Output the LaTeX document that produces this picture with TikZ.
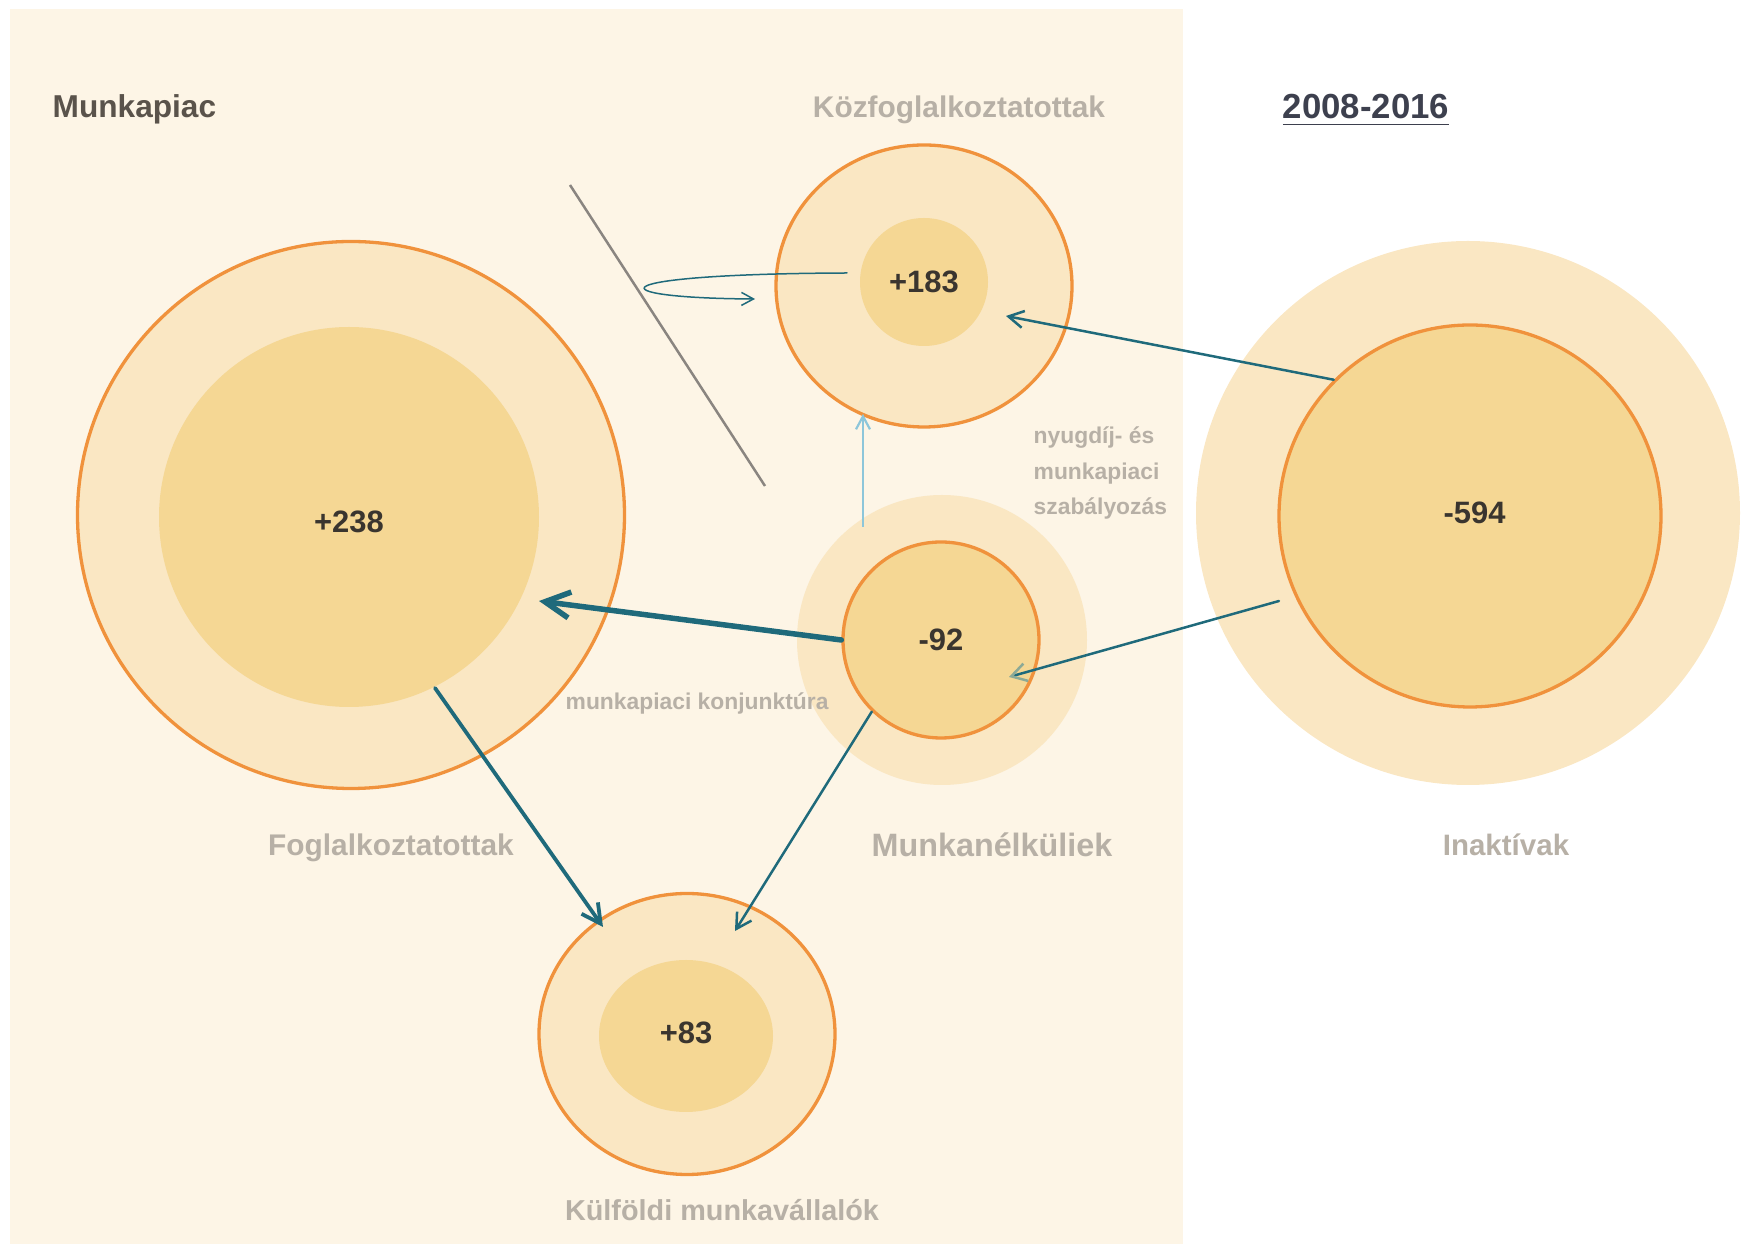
\documentclass[tikz,border=0pt]{standalone}
\usepackage{fontspec}
\setmainfont{Liberation Sans}
\usetikzlibrary{arrows.meta,shapes.geometric}

\definecolor{cream}{HTML}{FDF5E6}
\definecolor{ringpale}{HTML}{FAE7C3}
\definecolor{ringcore}{HTML}{F5D794}
\definecolor{ringedge}{HTML}{F0923C}
\definecolor{flowteal}{HTML}{1F6A7B}
\definecolor{flowsky}{HTML}{8DC6DA}
\definecolor{flowsage}{HTML}{8CA996}
\definecolor{slashgray}{HTML}{8A8580}
\definecolor{labelgray}{HTML}{B7B0A6}
\definecolor{titlegray}{HTML}{5A534B}
\definecolor{yeargray}{HTML}{3D404E}
\definecolor{numdark}{HTML}{3A352F}

\tikzset{
  pale/.style={circle, fill=ringpale, inner sep=0pt},
  core/.style={circle, fill=ringcore, inner sep=0pt, text=numdark,
    font=\fontsize{8.8}{10}\selectfont\bfseries},
  rim/.style={draw=ringedge, line width=0.33mm},
  grouplabel/.style={text=labelgray, inner sep=0pt, anchor=base},
  flow/.style={draw=flowteal, line cap=round},
}

\begin{document}
\begin{tikzpicture}[x=0.1mm, y=-0.1mm]
\useasboundingbox (0,0) rectangle (1744,1244);
\fill[cream] (10,9) rectangle (1183,1244);

\node[pale, rim, minimum size=54.7mm] (fogl) at (351,515) {};
\node[core, minimum size=38mm] (foglin) at (349,517) {\raisebox{-1.6mm}[0pt][0pt]{+238}};

\node[pale, rim, ellipse, minimum width=29.6mm, minimum height=28.2mm] (kozf) at (924,286) {};
\node[core, minimum size=12.8mm] (kozfin) at (924,282) {+183};

\node[pale, minimum size=29mm] (unout) at (942,640) {};
\node[core, rim, minimum size=19.6mm] (un) at (941,640) {-92};

\node[pale, minimum size=54.4mm] (inakout) at (1468,513) {};
\node[core, rim, minimum size=38.2mm] (inak) at (1470,516) {\hspace{0.9mm}\raisebox{0.6mm}{-594}};

\node[pale, rim, ellipse, minimum width=29.6mm, minimum height=28.1mm] (kulf) at (687,1034) {};
\node[core, ellipse, minimum width=17.4mm, minimum height=15.2mm] (kulfin) at (686,1036) {\raisebox{0.6mm}{+83}};

\coordinate (slasha) at (570,185);
\coordinate (slashb) at (765,486);
\draw[slashgray, line width=0.25mm] (slasha) -- (slashb);

\coordinate (fogltip) at (539,601);
\coordinate (foglexit) at (435,688);
\coordinate (kulftipa) at (603,927);
\coordinate (kulftipb) at (735,931);
\coordinate (kozftip) at (1006,316);
\coordinate (untip) at (1009,677);
\coordinate (inakgap) at (1279,601);
\coordinate (skyexit) at (863,527);
\coordinate (skytip) at (863,414);
\coordinate (loopexit) at (847,273);
\coordinate (looptip) at (755,299);

\draw[flow, line width=0.55mm, -{Straight Barb[length=2.5mm, width=2.6mm]}] (un.west) -- (fogltip);
\draw[flow, line width=0.38mm, -{Straight Barb[length=1.9mm, width=2mm]}] (foglexit) -- (kulftipa);
\draw[flow, line width=0.25mm, -{Straight Barb[length=1.5mm, width=1.7mm]}] (un.226) -- (kulftipb);
\draw[flow, line width=0.25mm, -{Straight Barb[length=1.5mm, width=1.7mm]}] (inak.135) -- (kozftip);
\draw[flow, line width=0.25mm, -{Straight Barb[color=flowsage, length=1.5mm, width=1.8mm]}] (inakgap) -- (untip);
\draw[flowsky, line width=0.22mm, -{Straight Barb[length=1.3mm, width=1.4mm]}] (skyexit) -- (skytip);
\draw[flow, line width=0.15mm, -{Straight Barb[length=1.2mm, width=1.3mm]}] (loopexit) .. controls (595,274) and (595,298) .. (looptip);

\node[anchor=base west, inner sep=0pt, text=titlegray, font=\fontsize{9}{11}\selectfont\bfseries] (piac) at (52,118) {Munkapiac};
\node[anchor=base, inner sep=0pt, text=yeargray, font=\fontsize{9.9}{12}\selectfont\bfseries] (ev) at (1366,119) {\underline{2008-2016}};

\node[grouplabel, font=\fontsize{8.5}{10}\selectfont\bfseries] (kozflab) at (959,118) {Közfoglalkoztatottak};
\node[grouplabel, font=\fontsize{8.5}{10}\selectfont\bfseries] (fogllab) at (391,856) {Foglalkoztatottak};
\node[grouplabel, font=\fontsize{9.2}{11}\selectfont\bfseries] (unlab) at (992,857) {Munkanélküliek};
\node[grouplabel, font=\fontsize{8.4}{10}\selectfont\bfseries] (inaklab) at (1506,856) {Inaktívak};
\node[grouplabel, font=\fontsize{8.2}{10}\selectfont\bfseries] (kulflab) at (722,1221) {Külföldi munkavállalók};

\node[grouplabel, anchor=base west, font=\fontsize{6.5}{8}\selectfont\bfseries] (konj) at (565,710) {munkapiaci konjunktúra};
\node[grouplabel, anchor=base west, font=\fontsize{6.5}{8}\selectfont\bfseries] (szab1) at (1033,444) {nyugdíj- és};
\node[grouplabel, anchor=base west, font=\fontsize{6.5}{8}\selectfont\bfseries] (szab2) at (1033,480) {munkapiaci};
\node[grouplabel, anchor=base west, font=\fontsize{6.5}{8}\selectfont\bfseries] (szab3) at (1033,515) {szabályozás};
\end{tikzpicture}
\end{document}
